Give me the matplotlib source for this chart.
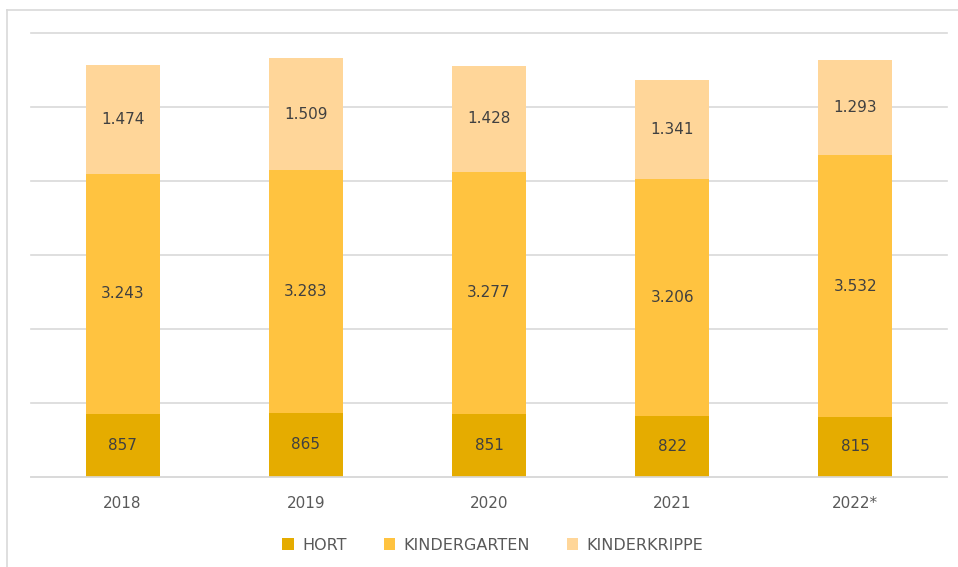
import matplotlib.pyplot as plt
from matplotlib.lines import Line2D

years = ["2018", "2019", "2020", "2021", "2022*"]
hort = [857, 865, 851, 822, 815]
kindergarten = [3243, 3283, 3277, 3206, 3532]
kinderkrippe = [1474, 1509, 1428, 1341, 1293]

colors = ["#E5AC00", "#FFC340", "#FFD699"]
series = [("HORT", hort), ("KINDERGARTEN", kindergarten), ("KINDERKRIPPE", kinderkrippe)]

plt.rcParams['font.family'] = ['DejaVu Sans']

fig = plt.figure(figsize=(9.58, 5.67), dpi=100)
ax = fig.add_axes([31 / 958, 90 / 567, 916 / 958, 444 / 567])

x = range(len(years))
bottom = [0] * len(years)
for (name, vals), c in zip(series, colors):
    bars = ax.bar(x, vals, 0.405, bottom=bottom, color=c, label=name, zorder=2)
    for b, v, base in zip(bars, vals, bottom):
        label = f"{v:,}".replace(",", ".")
        ax.text(b.get_x() + b.get_width() / 2, base + v / 2, label,
                ha="center", va="center", fontsize=11, color="#404040", zorder=3)
    bottom = [a + b for a, b in zip(bottom, vals)]

ax.set_xlim(-0.5, 4.5)
ax.set_ylim(0, 6000)
ax.set_yticks(range(0, 6001, 1000))
ax.yaxis.grid(True, color="#D9D9D9", linewidth=1.2, zorder=0)
for gl in ax.get_ygridlines():
    gl.set_clip_on(False)
ax.set_yticklabels([])
ax.tick_params(axis="y", length=0)
ax.tick_params(axis="x", length=0, pad=14, labelsize=11, labelcolor="#595959")
ax.set_xticks(list(x))
ax.set_xticklabels(years)
for s in ["top", "right", "left"]:
    ax.spines[s].set_visible(False)
ax.spines["bottom"].set_color("#D9D9D9")
ax.spines["bottom"].set_linewidth(1.2)

leg = fig.legend(loc="center", bbox_to_anchor=(493 / 958, 1 - 545 / 567), ncol=3,
                 frameon=False, fontsize=11.5, handlelength=0.7, handleheight=0.7,
                 handletextpad=0.55, columnspacing=2.3)
for t in leg.get_texts():
    t.set_color("#595959")

# outer frame lines (top and left)
fig.add_artist(Line2D([7 / 958, 1], [1 - 10 / 567, 1 - 10 / 567], color="#D9D9D9", lw=1.2))
fig.add_artist(Line2D([7 / 958, 7 / 958], [0, 1 - 10 / 567], color="#D9D9D9", lw=1.2))

fig.savefig("out.png", dpi=100)
